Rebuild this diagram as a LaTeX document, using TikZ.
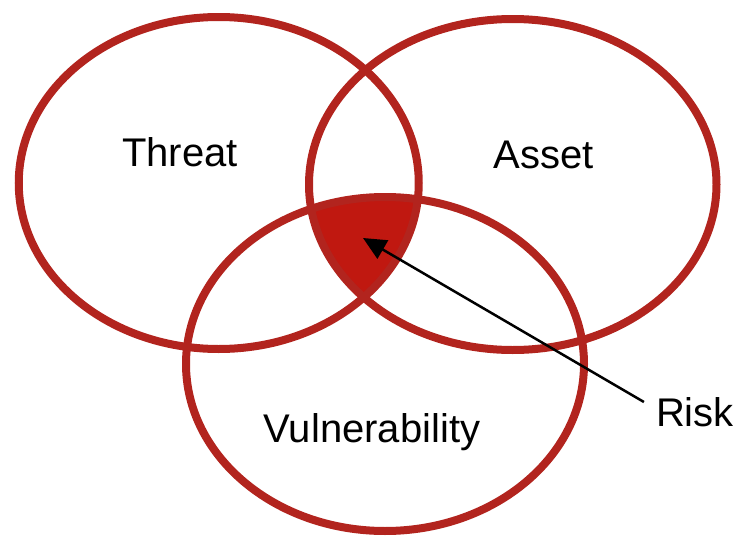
\documentclass[tikz,border=0pt]{standalone}
\usepackage{fontspec}
\setmainfont{Liberation Sans}
\usetikzlibrary{arrows.meta}
\usetikzlibrary{positioning}
\definecolor{ringred}{RGB}{178,36,30}
\definecolor{riskred}{RGB}{192,24,16}

\begin{document}
\begin{tikzpicture}[x=1pt, y=-1pt, >={Triangle[length=23pt,width=21pt]},
  every node/.style={font=\fontsize{40}{48}\selectfont, inner sep=0pt},
  ring/.style={draw=ringred, line width=8pt}]
\useasboundingbox (0,0) rectangle (740,541);
\coordinate (threatc) at (218.75,183);
\coordinate (assetc) at (512.75,184.5);
\coordinate (vulnc) at (385,364);
% the part shared by all three
\begin{scope}
  \clip (threatc) ellipse [x radius=200, y radius=166];
  \clip (assetc) ellipse [x radius=203.75, y radius=165.5];
  \fill[riskred] (vulnc) ellipse [x radius=199, y radius=167];
\end{scope}
\draw[ring] (threatc) ellipse [x radius=200, y radius=166];
\draw[ring] (assetc) ellipse [x radius=203.75, y radius=165.5];
\draw[ring] (vulnc) ellipse [x radius=199, y radius=167];
\node (threat) at (180,152) {Threat};
\node (asset) at (544,155) {Asset};
\node (vuln) at (372,432) {Vulnerability};
\node (risk) at (695,412) {Risk};
\coordinate (riskpt) at (363,238);
\draw[->, line width=2.5pt] ([shift={(-12,-10)}]risk.west) -- (riskpt);
\end{tikzpicture}
\end{document}
